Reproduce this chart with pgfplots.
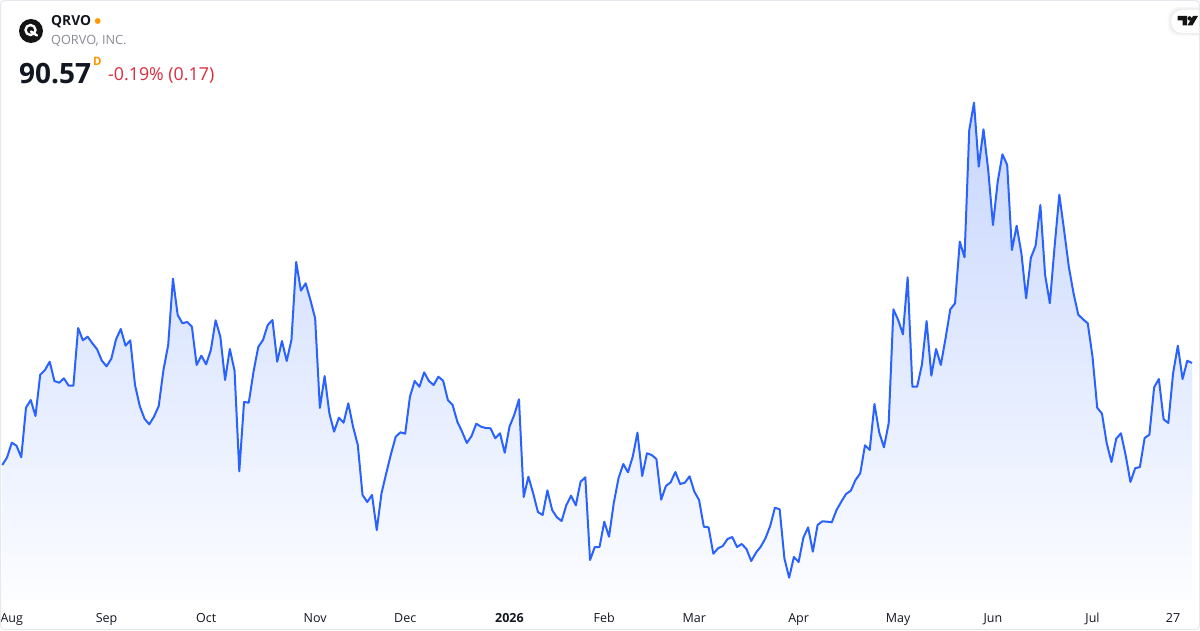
\documentclass[border=0pt]{standalone}
\usepackage{fontspec}
\setmainfont{Open Sans}
\usepackage{pgfplots}
\usepackage{pgfplotstable}
\pgfplotsset{compat=1.18}
\definecolor{tvline}{HTML}{2962FF}
\definecolor{filltop}{HTML}{C7D6FE}
\definecolor{fillbot}{HTML}{FCFDFF}
\definecolor{bordergrey}{HTML}{E6E8EE}
\definecolor{labeltext}{HTML}{131722}
\definecolor{subgrey}{HTML}{8A8D96}
\definecolor{downred}{HTML}{DB2B3F}
\definecolor{liveorange}{HTML}{FF9800}
% i = trading-day index, py = pixel row of the close
\pgfplotstableread{
i py
0 465
1 457.5
2 442.7
3 445.7
4 457.3
5 407.7
6 400
7 416
8 374.7
9 370
10 361.7
11 381
12 382.7
13 378.3
14 385.7
15 385.7
16 328
17 340.3
18 336.7
19 343.3
20 349.3
21 360.7
22 366.3
23 358.7
24 339.3
25 329
26 345.7
27 340.3
28 385
29 406
30 418.7
31 424.3
32 416.7
33 406
34 370
35 345
36 278.7
37 315
38 323.3
39 322
40 326.7
41 365
42 355.7
43 364.3
44 350
45 320.3
46 336.7
47 380
48 349
49 370.7
50 471.3
51 402
52 402.7
53 371.7
54 347
55 340
56 325
57 320
58 361.7
59 341
60 361
61 340
62 262
63 290.7
64 283.3
65 300
66 318.3
67 408
68 376
69 413.3
70 431.7
71 417.7
72 422.7
73 403.3
74 426.7
75 445
76 495
77 502
78 495
79 530
80 493.3
81 473.3
82 454
83 436.7
84 432.3
85 433.7
86 396.7
87 381
88 386.7
89 372.3
90 381
91 385
92 376.7
93 380.7
94 400
95 405
96 421.7
97 431.7
98 443
99 436
100 423.7
101 426.7
102 428
103 428.3
104 438.3
105 433.3
106 452.7
107 426.7
108 415
109 399.3
110 497
111 476.7
112 493.3
113 512
114 515
115 490.3
116 510
117 517.3
118 521
119 505
120 495.7
121 505.3
122 481.7
123 477.3
124 560
125 547
126 547
127 521.7
128 536.7
129 503
130 478.3
131 464
132 472.3
133 456.7
134 432.7
135 476
136 453.3
137 455
138 459
139 499.7
140 486
141 482.3
142 472
143 484
144 482.7
145 476.3
146 491.7
147 500
148 526.7
149 527.3
150 553.7
151 548.3
152 546
153 539
154 537
155 547
156 544
157 549
158 561
159 552.7
160 546.7
161 538.3
162 526
163 507.7
164 509.3
165 558.3
166 577.7
167 557
168 562
169 537.7
170 527.3
171 551.7
172 525
173 521.3
174 521.7
175 522.3
176 510
177 501.7
178 494
179 490.7
180 480
181 473.3
182 445.3
183 450
184 404
185 432.3
186 447.3
187 423.3
188 309.3
189 320
190 334.3
191 277.3
192 386.7
193 386.7
194 365
195 321
196 375.7
197 349
198 365
199 338.3
200 309.3
201 303.3
202 241.7
203 257.3
204 130
205 102.7
206 166.7
207 129.3
208 170
209 225
210 181.7
211 154.3
212 165
213 250
214 225.7
215 253.3
216 298.3
217 257.7
218 245.7
219 205
220 275
221 303.3
222 246.7
223 194.7
224 230
225 266.7
226 293.3
227 314.7
228 319.3
229 323.3
230 356.7
231 407.7
232 413.7
233 443.3
234 462
235 438.7
236 433.3
237 455.3
238 482
239 468.3
240 467
241 438
242 434.7
243 387.3
244 379
245 419.3
246 423
247 373.3
248 345.7
249 379
250 360.7
251 363
}\closes
\begin{document}
\begin{tikzpicture}[x=1pt,y=1pt]
\path[use as bounding box] (0,0) rectangle (1200,630);
\fill[white] (0,0) rectangle (1200,630);
\begin{axis}[
  at={(0pt,30pt)}, anchor=south west,
  width=1200pt, height=600pt, scale only axis,
  xmin=-0.4852, xmax=252.68, ymin=0, ymax=600,
  axis line style={draw=none},
  ytick=\empty,
  xtick={2,22,43,66,85,107,127,146,168,189,209,230,247},
  xticklabels={Aug,Sep,Oct,Nov,Dec,\textbf{2026},Feb,Mar,Apr,May,Jun,Jul,27},
  major tick length=0pt,
  xticklabel style={font=\fontsize{12.5}{15}\selectfont, text=labeltext, anchor=base, yshift=-22pt, inner sep=0pt},
  clip=true,
]
\addplot[draw=none, shade, top color=filltop, bottom color=fillbot]
  table[x=i, y expr=600-\thisrow{py}] {\closes} \closedcycle;
\addplot[tvline, line width=2pt, line join=round, no marks]
  table[x=i, y expr=600-\thisrow{py}] {\closes};
\end{axis}
% frame
\draw[bordergrey, line width=1pt, rounded corners=4pt] (0.5,0.5) rectangle (1199.5,629.5);
% header
\fill[black!92] (31,599) circle (12);
\draw[white, line width=2.4pt] (30.5,600) circle (5);
\draw[white, line width=2.4pt, line cap=round] (31,598.5) -- (37,594.5);
\node[anchor=base west, inner sep=0pt, text=labeltext] at (51,604) {\fontsize{13.8}{16}\selectfont\bfseries QRVO};
\fill[liveorange] (97.7,609) circle (2.9);
\node[anchor=base west, inner sep=0pt, text=subgrey] at (51,585.5) {\fontsize{12.7}{15}\selectfont QORVO, INC.};
\node[anchor=base west, inner sep=0pt, text=labeltext] at (19,546) {\fontsize{28}{33}\selectfont\bfseries 90.57};
\node[anchor=base west, inner sep=0pt, text=liveorange] at (93,564) {\fontsize{11.5}{14}\selectfont\bfseries D};
\node[anchor=base west, inner sep=0pt, text=downred] at (108,549) {\fontsize{17.8}{21}\selectfont -0.19\% (0.17)};
% TradingView badge
\foreach \o in {3.5,2.5,1.5,0.7}{
  \fill[black, opacity=.02, rounded corners=11pt] (1171-\o,597-\o) rectangle (1225,620+\o);
}
\fill[white, rounded corners=11pt] (1171,597) rectangle (1225,620);
\fill[black!92] (1177.5,614) -- (1187,614) -- (1187,604.7) -- (1182.5,604.7) -- (1182.5,609.5) -- (1177.5,609.5) -- cycle;
\fill[black!92] (1189.6,611.6) circle (2.2);
\fill[black!92] (1193,614) -- (1198,614) -- (1192.5,604.7) -- (1187.5,604.7) -- cycle;
\draw[bordergrey, line width=1pt] (1199.5,8) -- (1199.5,625);
\end{tikzpicture}
\end{document}
